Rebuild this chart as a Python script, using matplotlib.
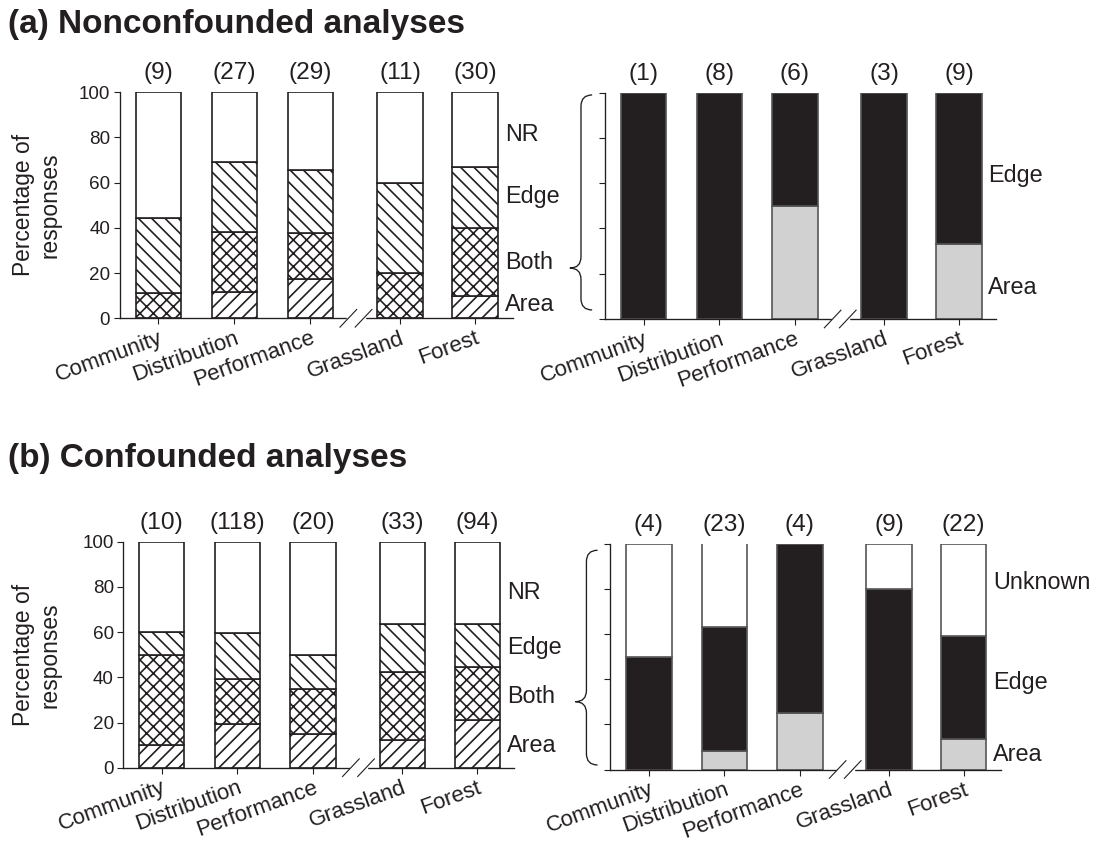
import numpy as np
import matplotlib.pyplot as plt
from matplotlib.path import Path
from matplotlib.patches import PathPatch

plt.rcParams['font.family'] = ['Liberation Sans', 'DejaVu Sans']
plt.rcParams['hatch.linewidth'] = 1.5
plt.rcParams['text.color'] = '#231f20'
plt.rcParams['axes.edgecolor'] = '#231f20'
plt.rcParams['xtick.color'] = '#231f20'
plt.rcParams['ytick.color'] = '#231f20'

DPI = 80
W, H = 1101, 842

categories = ['Community', 'Distribution', 'Performance', 'Grassland', 'Forest']
x_pos = [0, 1, 2, 3.18, 4.17]

# (a) nonconfounded - response type (left)
a_n = [9, 27, 29, 11, 30]
a_area = [0, 11.5, 17.2, 0, 10]
a_both = [11.1, 26.8, 20.7, 20.2, 30.1]
a_edge = [33.4, 31.0, 27.7, 39.8, 26.7]
a_nr = [55.5, 30.7, 34.4, 40.0, 33.2]

# (a) nonconfounded - outcome (right)
a_n2 = [1, 8, 6, 3, 9]
a2_area = [0, 0, 50, 0, 33.3]
a2_edge = [100, 100, 50, 100, 66.7]

# (b) confounded - response type (left)
b_n = [10, 118, 20, 33, 94]
b_area = [10, 19.3, 15, 12.1, 21.3]
b_both = [40, 19.9, 20, 30.4, 23.3]
b_edge = [10, 20.4, 15, 21.1, 19.2]
b_nr = [40, 40.4, 50, 36.4, 36.2]

# (b) confounded - outcome (right)
b_n2 = [4, 23, 4, 9, 22]
b2_area = [0, 8, 25, 0, 13.6]
b2_edge = [50, 55, 75, 80, 45.5]
b2_unknown = [50, 37, 0, 20, 40.9]

INK = '#231f20'


def px_rect(left, top, right, bottom):
    return [left / W, 1 - bottom / H, (right - left) / W, (bottom - top) / H]


def stacked(ax, parts, styles):
    bottom = np.zeros(len(categories))
    for vals, (fc, hatch, ec) in zip(parts, styles):
        vals = np.array(vals, dtype=float)
        ax.bar(x_pos, vals, width=0.6, bottom=bottom, color=fc, hatch=hatch,
               edgecolor=ec, linewidth=1.5, zorder=2)
        bottom += vals


def style_axes(ax, counts, show_yticklabels=True):
    ax.set_xlim(-0.51, 4.66)
    ax.set_ylim(0, 100)
    for s in ['top', 'right']:
        ax.spines[s].set_visible(False)
    ax.spines['left'].set_linewidth(1.2)
    ax.spines['bottom'].set_linewidth(1.2)
    ax.set_yticks([0, 20, 40, 60, 80, 100])
    ax.tick_params(axis='both', direction='out', length=5, width=1, labelsize=17)
    if not show_yticklabels:
        ax.set_yticklabels([])
    ax.set_xticks(x_pos)
    ax.set_xticklabels(categories, rotation=20, ha='right', rotation_mode='anchor', fontsize=20)
    for x, n in zip(x_pos, counts):
        ax.annotate(f'({n})', xy=(x, 100), xytext=(0, 17), textcoords='offset points',
                    ha='center', va='center', fontsize=22, annotation_clip=False)
    # axis break between the two groups
    bx = 2.6
    ax.plot([bx - 0.1, bx + 0.1], [0, 0], color='white', lw=3, zorder=5, clip_on=False)
    for cx in [bx - 0.1, bx + 0.1]:
        ax.plot([cx - 0.11, cx + 0.11], [-3.9, 3.9], color=INK, lw=1, zorder=6, clip_on=False)


def side_labels(ax, labels, ys):
    for lab, y in zip(labels, ys):
        ax.text(4.56, y, lab, ha='left', va='center', fontsize=21)


def brace(ax, y_top, y_bot, y_tip):
    xe, xt = -0.68, -0.975
    xm = (xe + xt) / 2
    ry = 5
    verts = [(xe, y_top), (xm, y_top), (xm, y_top - ry),
             (xm, y_tip + ry),
             (xm, y_tip), (xt, y_tip),
             (xm, y_tip), (xm, y_tip - ry),
             (xm, y_bot + ry),
             (xm, y_bot), (xe, y_bot)]
    codes = [Path.MOVETO, Path.CURVE3, Path.CURVE3,
             Path.LINETO,
             Path.CURVE3, Path.CURVE3,
             Path.CURVE3, Path.CURVE3,
             Path.LINETO,
             Path.CURVE3, Path.CURVE3]
    ax.add_patch(PathPatch(Path(verts, codes), fill=False, lw=1.2, edgecolor=INK, clip_on=False))


fig = plt.figure(figsize=(W / DPI, H / DPI), dpi=DPI)

hatch_styles = [('white', '//', INK), ('white', 'xx', INK), ('white', '\\\\', INK), ('white', '', INK)]

ax1 = fig.add_axes(px_rect(119.6, 92.3, 512.5, 318.3))
stacked(ax1, [a_area, a_both, a_edge, a_nr], hatch_styles)
style_axes(ax1, a_n)
side_labels(ax1, ['NR', 'Edge', 'Both', 'Area'], [81.5, 53.7, 24.5, 5.9])

ax2 = fig.add_axes(px_rect(605, 92.7, 996, 319))
stacked(ax2, [a2_area, a2_edge], [('#d1d1d1', '', '#555555'), (INK, '', '#555555')])
style_axes(ax2, a_n2, show_yticklabels=False)
side_labels(ax2, ['Edge', 'Area'], [63.6, 13.7])
brace(ax2, 99, 4, 22.5)

ax3 = fig.add_axes(px_rect(123.2, 541.7, 514.3, 767.7))
stacked(ax3, [b_area, b_both, b_edge, b_nr], hatch_styles)
style_axes(ax3, b_n)
side_labels(ax3, ['NR', 'Edge', 'Both', 'Area'], [77.7, 53, 31.3, 10])

ax4 = fig.add_axes(px_rect(610.4, 543.5, 1000.7, 769.5))
stacked(ax4, [b2_area, b2_edge, b2_unknown],
        [('#d1d1d1', '', '#555555'), (INK, '', '#555555'), ('white', '', '#555555')])
style_axes(ax4, b_n2, show_yticklabels=False)
side_labels(ax4, ['Unknown', 'Edge', 'Area'], [82.7, 38.5, 6.6])
brace(ax4, 97, 2, 30)

for yc in [205, 654.7]:
    fig.text(37 / W, 1 - yc / H, 'Percentage of\nresponses', rotation=90,
             ha='center', va='center', fontsize=20.5, linespacing=1.2)

fig.text(8 / W, 1 - 25 / H, '(a) Nonconfounded analyses', fontsize=30,
         fontweight='bold', ha='left', va='center')
fig.text(8 / W, 1 - 458 / H, '(b) Confounded analyses', fontsize=30,
         fontweight='bold', ha='left', va='center')

fig.savefig('out.png', dpi=DPI)
plt.close()
